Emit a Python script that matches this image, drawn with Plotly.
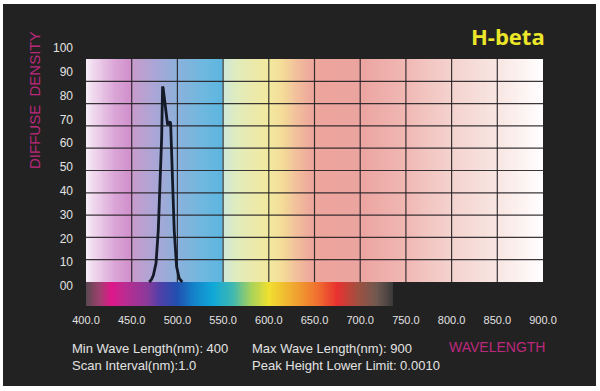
import plotly.graph_objects as go

# ---------------- data ----------------
wavelength = [469.2, 471.5, 473.7, 476.6, 479.1, 481.0, 482.8, 483.8, 484.4,
              489.3, 491.9, 492.6, 494.7, 496.5, 499.1, 502.0, 505.3]
density = [0.0, 1.0, 3.0, 8.4, 23.3, 42.7, 65.0, 87.6, 87.0,
           70.4, 71.9, 71.2, 42.7, 23.3, 6.9, 1.6, 0.0]

x_ticks = [400, 450, 500, 550, 600, 650, 700, 750, 800, 850, 900]
x_tick_labels = ["400.0", "450.0", "500.0", "550.0", "600.0", "650.0",
                 "700.0", "750.0", "800.0", "850.0", "900.0"]
y_ticks = [0, 10, 20, 30, 40, 50, 60, 70, 80, 90, 100]
y_tick_labels = ["00", "10", "20", "30", "40", "50", "60", "70", "80", "90", "100"]

title_text = "H-beta"
y_title = "DIFFUSE  DENSITY"
x_title = "WAVELENGTH"
info_lines = ["Min Wave Length(nm): 400", "Scan Interval(nm):1.0",
              "Max Wave Length(nm): 900", "Peak Height Lower Limit: 0.0010"]

# ---------------- styles ----------------
X_MIN, X_MAX = 400, 900
BAR_END = 736
bg_stops = [
    (400, "#f6eef6"), (410, "#eed4ec"), (430, "#dca8d8"), (448, "#d090cc"),
    (452, "#c69ccc"), (470, "#b0a4d4"), (490, "#98acd8"), (510, "#80b4dc"),
    (530, "#6cb8e0"), (549, "#5cb6e0"), (550.5, "#cfe8d8"), (565, "#e0ecbc"),
    (585, "#ece9a8"), (600, "#f2e9a0"), (615, "#f4dc98"), (630, "#f2c09c"),
    (645, "#eeaa9c"), (660, "#eca49c"), (700, "#eca4a0"), (725, "#eeaeaa"),
    (750, "#f0b8b4"), (775, "#f2c6c2"), (800, "#f4d2ce"), (825, "#f6dcd8"),
    (850, "#f8e6e2"), (875, "#fcf2f0"), (900, "#ffffff"),
]
bar_stops = [
    (400, "#5a4850"), (415, "#a04070"), (428, "#e0158a"), (440, "#c02a90"),
    (467, "#8a3a9a"), (481, "#5040a8"), (500, "#2050b0"), (517, "#1480c8"),
    (539, "#10a8d8"), (561, "#40b8b0"), (579, "#a0d060"), (600, "#f0e030"),
    (631, "#f0a030"), (653, "#f07030"), (675, "#e83030"), (697, "#a05040"),
    (718, "#705850"), (736, "#3a3a3a"),
]


def scale(stops, lo, hi):
    return [[(w - lo) / (hi - lo), c] for w, c in stops]


DARK = "#222222"
MAGENTA = "#bc287c"
TEXT = "#e2e2e2"
FONT = "Liberation Sans, Arial, sans-serif"

# pixel geometry of the plot area
L, R, T, B = 86, 543, 40, 306
Y_LO, Y_HI = -10.76, 108.52
Y2_LO, Y2_HI = -8.40, 103.36


def px(p):
    return (p - L) / (R - L)


def py(q):
    return (B - q) / (B - T)


fig = go.Figure()

# background gradient (colour keyed to wavelength)
edges = list(range(X_MIN, X_MAX + 1))
mids = [e + 0.5 for e in edges[:-1]]
fig.add_trace(go.Heatmap(x=edges, y=[0, 100], z=[mids], zmin=X_MIN, zmax=X_MAX,
                         colorscale=scale(bg_stops, X_MIN, X_MAX), showscale=False,
                         hoverinfo="skip"))

# spectrum strip
bedges = list(range(X_MIN, BAR_END + 1))
bmids = [e + 0.5 for e in bedges[:-1]]
fig.add_trace(go.Heatmap(x=bedges, y=[Y_LO, 0], z=[bmids], zmin=X_MIN, zmax=BAR_END,
                         colorscale=scale(bar_stops, X_MIN, BAR_END), showscale=False,
                         hoverinfo="skip"))

# grid lines drawn on top of the gradient
gx, gy = [], []
for xv in x_ticks[1:-1]:
    gx += [xv, xv, None]
    gy += [0, 100, None]
for yv in y_ticks[1:-1]:
    gx += [X_MIN, X_MAX, None]
    gy += [yv, yv, None]
fig.add_trace(go.Scatter(x=gx, y=gy, mode="lines", showlegend=False, hoverinfo="skip",
                         line=dict(color="rgba(36,32,36,0.9)", width=1.2)))

# the transmission curve
fig.add_trace(go.Scatter(x=wavelength, y=density, mode="lines", showlegend=False,
                         line=dict(color="#141a28", width=2.8)))

# empty trace to carry the tick-label axis
fig.add_trace(go.Scatter(x=[], y=[], yaxis="y2", showlegend=False, hoverinfo="skip"))

annotations = [
    dict(text="<b>%s</b>" % title_text, x=1.0, y=py(36), xanchor="right", yanchor="middle",
         xshift=4, font=dict(family="Open Sans, sans-serif", size=22, color="#ece62a")),
    dict(text=y_title, x=px(34), y=py(100), xanchor="center", yanchor="middle",
         textangle=-90, font=dict(family=FONT, size=15, color=MAGENTA)),
    dict(text=x_title, x=px(447), y=py(347), xanchor="left", yanchor="middle",
         font=dict(family=FONT, size=14, color=MAGENTA)),
    dict(text=info_lines[0], x=px(70), y=py(348), xanchor="left", yanchor="middle",
         font=dict(family=FONT, size=13, color=TEXT)),
    dict(text=info_lines[1], x=px(70), y=py(366), xanchor="left", yanchor="middle",
         font=dict(family=FONT, size=13, color=TEXT)),
    dict(text=info_lines[2], x=px(250), y=py(348), xanchor="left", yanchor="middle",
         font=dict(family=FONT, size=13, color=TEXT)),
    dict(text=info_lines[3], x=px(250), y=py(366), xanchor="left", yanchor="middle",
         font=dict(family=FONT, size=13, color=TEXT)),
]
for a in annotations:
    a.update(xref="paper", yref="paper", showarrow=False)

fig.update_layout(
    width=600, height=391, autosize=False,
    margin=dict(l=L, r=600 - R, t=T, b=391 - B, pad=0),
    paper_bgcolor="white", plot_bgcolor="rgba(0,0,0,0)",
    shapes=[dict(type="rect", xref="paper", yref="paper", layer="below",
                 x0=px(3), x1=px(596), y0=py(386), y1=py(4),
                 fillcolor=DARK, line=dict(width=0))],
    annotations=annotations,
    xaxis=dict(range=[X_MIN, X_MAX], tickvals=x_ticks, ticktext=x_tick_labels,
               showgrid=False, zeroline=False, showline=False, ticks="",
               ticklabelstandoff=6,
               tickfont=dict(family=FONT, size=11, color=TEXT), fixedrange=True),
    yaxis=dict(range=[Y_LO, Y_HI], showgrid=False, zeroline=False, showline=False,
               showticklabels=False, ticks="", fixedrange=True),
    yaxis2=dict(range=[Y2_LO, Y2_HI], overlaying="y", side="left", anchor="x",
                tickvals=y_ticks, ticktext=y_tick_labels, showgrid=False,
                zeroline=False, showline=False, ticks="", ticklabelstandoff=12,
                tickfont=dict(family=FONT, size=12, color=TEXT), fixedrange=True),
    showlegend=False,
)

fig.write_html("out.html", config={"displayModeBar": False},
               post_script="document.body.style.margin='0';document.body.style.overflow='hidden';")
